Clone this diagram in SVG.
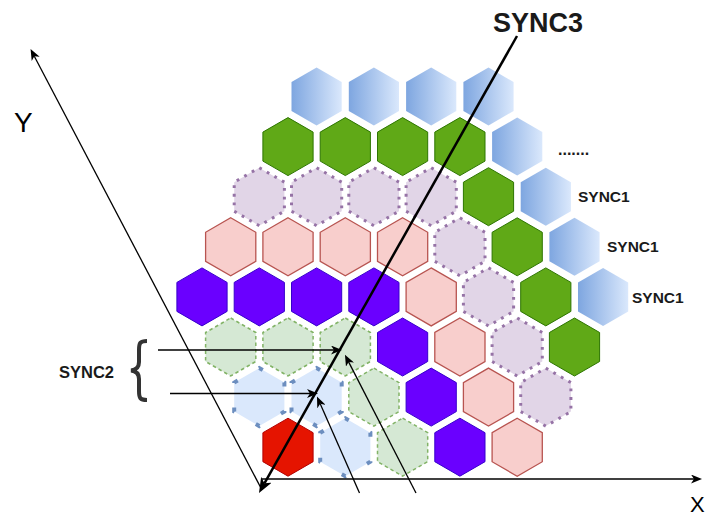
<svg xmlns="http://www.w3.org/2000/svg" xmlns:xlink="http://www.w3.org/1999/xlink" width="713" height="520" viewBox="0 0 713 520">
<style>
.blue{fill:url(#bg);stroke:none}
.green{fill:#60A917;stroke:#2D7600;stroke-width:1}
.lav{fill:#E1D5E7;stroke:#9673A6;stroke-width:3;stroke-dasharray:2.8 5.9}
.pink{fill:#F8CECC;stroke:#B85450;stroke-width:1.3}
.vio{fill:#6A00FF;stroke:#3700CC;stroke-width:1}
.lgr{fill:#D5E8D4;stroke:#82B366;stroke-width:1.5;stroke-dasharray:3.5 3}
.lbl{fill:#DAE8FC;stroke:#6C8EBF;stroke-width:4;stroke-dasharray:4.5 24.5;stroke-dashoffset:0.5}
.red{fill:#E51400;stroke:#B20000;stroke-width:1}
.thin{fill:none;stroke:#000;stroke-width:1.3}
.thick{fill:none;stroke:#000;stroke-width:2.5}
.lab{font-family:"Liberation Sans",Arial,sans-serif;font-weight:bold;fill:#1a1a1a}
.ax{font-family:"Liberation Sans",Arial,sans-serif;fill:#000}
</style>
<defs>
<linearGradient id="bg" x1="0" y1="0" x2="1" y2="0">
<stop offset="0" stop-color="#7EA6E0"/>
<stop offset="1" stop-color="#DAE8FC"/>
</linearGradient>
<polygon id="hx" points="0,-29 25.1,-14.5 25.1,14.5 0,29 -25.1,14.5 -25.1,-14.5"/>
<marker id="a1" markerUnits="userSpaceOnUse" markerWidth="11" markerHeight="9" viewBox="0 0 11 9" refX="3" refY="4.5" orient="auto">
<path d="M0,0 L11,4.5 L0,9 L3,4.5 z" fill="#000"/>
</marker>
<marker id="a2" markerUnits="userSpaceOnUse" markerWidth="15" markerHeight="12" viewBox="0 0 15 12" refX="4" refY="6" orient="auto">
<path d="M0,0 L15,6 L0,12 L4,6 z" fill="#000"/>
</marker>
</defs>
<rect width="713" height="520" fill="#fff"/>

<g id="hexes">
<g id="r0c4"><use href="#hx" class="blue" x="316.6" y="96.5"/></g>
<g id="r0c6"><use href="#hx" class="blue" x="373.9" y="96.5"/></g>
<g id="r0c8"><use href="#hx" class="blue" x="431.2" y="96.5"/></g>
<g id="r0c10"><use href="#hx" class="blue" x="488.5" y="96.5"/></g>

<g id="r1c3"><use href="#hx" class="green" x="288" y="146.6"/></g>
<g id="r1c5"><use href="#hx" class="green" x="345.3" y="146.6"/></g>
<g id="r1c7"><use href="#hx" class="green" x="402.6" y="146.6"/></g>
<g id="r1c9"><use href="#hx" class="green" x="459.9" y="146.6"/></g>
<g id="r1c11"><use href="#hx" class="blue" x="517.2" y="146.6"/></g>

<g id="r2c2"><use href="#hx" class="lav" x="259.3" y="196.7"/></g>
<g id="r2c4"><use href="#hx" class="lav" x="316.6" y="196.7"/></g>
<g id="r2c6"><use href="#hx" class="lav" x="373.9" y="196.7"/></g>
<g id="r2c8"><use href="#hx" class="lav" x="431.2" y="196.7"/></g>
<g id="r2c10"><use href="#hx" class="green" x="488.5" y="196.7"/></g>
<g id="r2c12"><use href="#hx" class="blue" x="545.8" y="196.7"/></g>

<g id="r3c1"><use href="#hx" class="pink" x="230.7" y="246.8"/></g>
<g id="r3c3"><use href="#hx" class="pink" x="288" y="246.8"/></g>
<g id="r3c5"><use href="#hx" class="pink" x="345.3" y="246.8"/></g>
<g id="r3c7"><use href="#hx" class="pink" x="402.6" y="246.8"/></g>
<g id="r3c9"><use href="#hx" class="lav" x="459.9" y="246.8"/></g>
<g id="r3c11"><use href="#hx" class="green" x="517.2" y="246.8"/></g>
<g id="r3c13"><use href="#hx" class="blue" x="574.5" y="246.8"/></g>

<g id="r4c0"><use href="#hx" class="vio" x="202" y="296.9"/></g>
<g id="r4c2"><use href="#hx" class="vio" x="259.3" y="296.9"/></g>
<g id="r4c4"><use href="#hx" class="vio" x="316.6" y="296.9"/></g>
<g id="r4c6"><use href="#hx" class="vio" x="373.9" y="296.9"/></g>
<g id="r4c8"><use href="#hx" class="pink" x="431.2" y="296.9"/></g>
<g id="r4c10"><use href="#hx" class="lav" x="488.5" y="296.9"/></g>
<g id="r4c12"><use href="#hx" class="green" x="545.8" y="296.9"/></g>
<g id="r4c14"><use href="#hx" class="blue" x="603.1" y="296.9"/></g>

<g id="r5c1"><use href="#hx" class="lgr" x="230.7" y="347"/></g>
<g id="r5c3"><use href="#hx" class="lgr" x="288" y="347"/></g>
<g id="r5c5"><use href="#hx" class="lgr" x="345.3" y="347"/></g>
<g id="r5c7"><use href="#hx" class="vio" x="402.6" y="347"/></g>
<g id="r5c9"><use href="#hx" class="pink" x="459.9" y="347"/></g>
<g id="r5c11"><use href="#hx" class="lav" x="517.2" y="347"/></g>
<g id="r5c13"><use href="#hx" class="green" x="574.5" y="347"/></g>

<g id="r6c2"><use href="#hx" class="lbl" x="259.3" y="397.1"/></g>
<g id="r6c4"><use href="#hx" class="lbl" x="316.6" y="397.1"/></g>
<g id="r6c6"><use href="#hx" class="lgr" x="373.9" y="397.1"/></g>
<g id="r6c8"><use href="#hx" class="vio" x="431.2" y="397.1"/></g>
<g id="r6c10"><use href="#hx" class="pink" x="488.5" y="397.1"/></g>
<g id="r6c12"><use href="#hx" class="lav" x="545.8" y="397.1"/></g>

<g id="r7c3"><use href="#hx" class="red" x="288" y="447.2"/></g>
<g id="r7c5"><use href="#hx" class="lbl" x="345.3" y="447.2"/></g>
<g id="r7c7"><use href="#hx" class="lgr" x="402.6" y="447.2"/></g>
<g id="r7c9"><use href="#hx" class="vio" x="459.9" y="447.2"/></g>
<g id="r7c11"><use href="#hx" class="pink" x="517.2" y="447.2"/></g>
</g>

<g id="labels">
<text class="lab" x="493" y="32" font-size="27">SYNC3</text>
<text class="lab" x="558" y="155" font-size="16">.......</text>
<text class="lab" x="578" y="202" font-size="15.5">SYNC1</text>
<text class="lab" x="607" y="252" font-size="15.5">SYNC1</text>
<text class="lab" x="632" y="303" font-size="15.5">SYNC1</text>
<text class="lab" x="114" y="378" font-size="16.5" text-anchor="end">SYNC2</text>
<text class="ax" x="14" y="132" font-size="28">Y</text>
<text class="ax" x="690" y="512" font-size="22">X</text>
</g>

<g id="brace">
<path d="M147,341 C140,341 139,343 139,350 L139,362 C139,368 136,370 131,370.5 C136,371 139,373 139,379 L139,391 C139,398 140,400 147,400" fill="none" stroke="#333" stroke-width="4"/>
</g>

<g id="connectors">
<path id="yaxis" class="thin" d="M262,490 L34.3,56.2" marker-end="url(#a1)"/>
<path id="xaxis" class="thin" d="M262,479 L694,479" marker-end="url(#a1)"/>
<path id="sync3" class="thick" d="M517,36 L264.4,483.3" marker-end="url(#a2)"/>
<path id="s2a" class="thin" d="M158,350 L334,350" marker-end="url(#a1)"/>
<path id="s2b" class="thin" d="M170,393.5 L310,393.5" marker-end="url(#a1)"/>
<path id="obA" class="thin" d="M416,493 L348.6,361.9" marker-end="url(#a1)"/>
<path id="obB" class="thin" d="M359.5,493 L320.2,403.8" marker-end="url(#a1)"/>
</g>
</svg>
